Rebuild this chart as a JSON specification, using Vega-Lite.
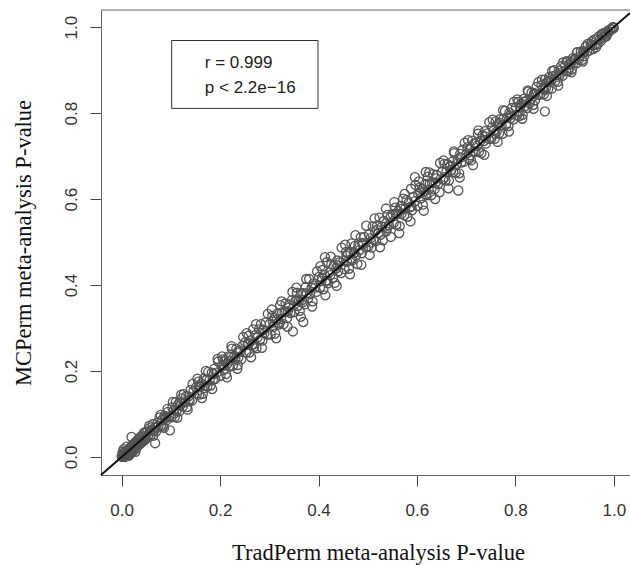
{
"$schema": "https://vega.github.io/schema/vega-lite/v6.json",
"width": 529, "height": 465,
"autosize": "none",
"padding": {"left": 101, "top": 10, "right": 0, "bottom": 90},
"background": "white",
"config": {"view": {"stroke": null}},
"layer": [
{
"data": {"values": [
{"x":0.000,"y":0.002},{"x":0.001,"y":0.000},{"x":0.002,"y":0.006},{"x":0.003,"y":0.001},{"x":0.004,"y":0.009},{"x":0.005,"y":0.003},{"x":0.006,"y":0.000},{"x":0.007,"y":0.011},{"x":0.008,"y":0.004},{"x":0.009,"y":0.014},{"x":0.010,"y":0.006},{"x":0.011,"y":0.002},{"x":0.012,"y":0.016},{"x":0.013,"y":0.009},{"x":0.014,"y":0.005},{"x":0.015,"y":0.019},{"x":0.016,"y":0.012},{"x":0.017,"y":0.008},{"x":0.018,"y":0.022},{"x":0.019,"y":0.014},{"x":0.020,"y":0.010},{"x":0.021,"y":0.026},{"x":0.022,"y":0.017},{"x":0.023,"y":0.013},{"x":0.024,"y":0.030},{"x":0.025,"y":0.020},{"x":0.026,"y":0.021},{"x":0.027,"y":0.033},{"x":0.028,"y":0.024},{"x":0.029,"y":0.019},{"x":0.030,"y":0.036},{"x":0.031,"y":0.027},{"x":0.032,"y":0.025},{"x":0.033,"y":0.040},{"x":0.034,"y":0.030},{"x":0.035,"y":0.028},{"x":0.036,"y":0.044},{"x":0.037,"y":0.035},{"x":0.038,"y":0.031},{"x":0.039,"y":0.047},{"x":0.040,"y":0.037},{"x":0.041,"y":0.034},{"x":0.042,"y":0.050},{"x":0.043,"y":0.040},{"x":0.044,"y":0.038},{"x":0.045,"y":0.056},{"x":0.046,"y":0.043},{"x":0.047,"y":0.039},{"x":0.048,"y":0.058},{"x":0.049,"y":0.046},{"x":0.050,"y":0.044},
{"x":0.020,"y":0.0465},{"x":0.004,"y":0.018},{"x":0.010,"y":0.024},{"x":0.002,"y":0.012},{"x":0.015,"y":0.003},{"x":0.028,"y":0.012},
{"x":0.052,"y":0.058},{"x":0.054,"y":0.050},{"x":0.057,"y":0.067},{"x":0.059,"y":0.051},{"x":0.061,"y":0.063},{"x":0.063,"y":0.076},{"x":0.066,"y":0.061},{"x":0.068,"y":0.069},{"x":0.070,"y":0.059},{"x":0.073,"y":0.080},{"x":0.075,"y":0.073},{"x":0.077,"y":0.092},{"x":0.080,"y":0.073},{"x":0.082,"y":0.086},{"x":0.084,"y":0.071},{"x":0.087,"y":0.096},{"x":0.089,"y":0.089},{"x":0.091,"y":0.085},{"x":0.094,"y":0.105},{"x":0.097,"y":0.094},
{"x":0.068,"y":0.032},{"x":0.098,"y":0.062},
{"x":0.101,"y":0.092},{"x":0.103,"y":0.115},{"x":0.106,"y":0.109},{"x":0.108,"y":0.093},{"x":0.110,"y":0.128},{"x":0.112,"y":0.108},{"x":0.115,"y":0.123},{"x":0.117,"y":0.106},{"x":0.119,"y":0.120},{"x":0.122,"y":0.136},{"x":0.124,"y":0.117},{"x":0.126,"y":0.146},{"x":0.129,"y":0.127},{"x":0.131,"y":0.141},{"x":0.133,"y":0.116},{"x":0.136,"y":0.141},{"x":0.138,"y":0.130},{"x":0.140,"y":0.156},{"x":0.143,"y":0.131},{"x":0.146,"y":0.153},
{"x":0.151,"y":0.162},{"x":0.153,"y":0.147},{"x":0.156,"y":0.175},{"x":0.158,"y":0.145},{"x":0.160,"y":0.164},{"x":0.162,"y":0.171},{"x":0.165,"y":0.147},{"x":0.167,"y":0.182},{"x":0.169,"y":0.166},{"x":0.172,"y":0.179},{"x":0.174,"y":0.164},{"x":0.176,"y":0.198},{"x":0.179,"y":0.180},{"x":0.181,"y":0.166},{"x":0.183,"y":0.196},{"x":0.186,"y":0.181},{"x":0.188,"y":0.205},{"x":0.190,"y":0.181},{"x":0.193,"y":0.196},{"x":0.196,"y":0.222},
{"x":0.201,"y":0.189},{"x":0.203,"y":0.211},{"x":0.206,"y":0.227},{"x":0.208,"y":0.203},{"x":0.210,"y":0.224},{"x":0.212,"y":0.193},{"x":0.215,"y":0.217},{"x":0.217,"y":0.234},{"x":0.219,"y":0.210},{"x":0.222,"y":0.233},{"x":0.224,"y":0.252},{"x":0.226,"y":0.212},{"x":0.229,"y":0.235},{"x":0.231,"y":0.228},{"x":0.233,"y":0.252},{"x":0.236,"y":0.214},{"x":0.238,"y":0.248},{"x":0.240,"y":0.244},{"x":0.243,"y":0.227},{"x":0.246,"y":0.259},
{"x":0.251,"y":0.267},{"x":0.253,"y":0.243},{"x":0.256,"y":0.261},{"x":0.258,"y":0.282},{"x":0.260,"y":0.243},{"x":0.262,"y":0.271},{"x":0.265,"y":0.261},{"x":0.267,"y":0.297},{"x":0.269,"y":0.256},{"x":0.272,"y":0.284},{"x":0.274,"y":0.253},{"x":0.276,"y":0.278},{"x":0.279,"y":0.297},{"x":0.281,"y":0.273},{"x":0.283,"y":0.309},{"x":0.286,"y":0.271},{"x":0.288,"y":0.295},{"x":0.290,"y":0.288},{"x":0.293,"y":0.313},{"x":0.296,"y":0.285},
{"x":0.301,"y":0.310},{"x":0.303,"y":0.285},{"x":0.306,"y":0.328},{"x":0.308,"y":0.302},{"x":0.310,"y":0.323},{"x":0.312,"y":0.287},{"x":0.315,"y":0.319},{"x":0.317,"y":0.334},{"x":0.319,"y":0.308},{"x":0.322,"y":0.353},{"x":0.324,"y":0.321},{"x":0.326,"y":0.337},{"x":0.329,"y":0.309},{"x":0.331,"y":0.337},{"x":0.333,"y":0.357},{"x":0.336,"y":0.323},{"x":0.338,"y":0.339},{"x":0.340,"y":0.355},{"x":0.343,"y":0.335},{"x":0.346,"y":0.365},
{"x":0.348,"y":0.292},{"x":0.369,"y":0.314},
{"x":0.351,"y":0.337},{"x":0.353,"y":0.363},{"x":0.356,"y":0.382},{"x":0.358,"y":0.351},{"x":0.360,"y":0.363},{"x":0.362,"y":0.340},{"x":0.365,"y":0.381},{"x":0.367,"y":0.365},{"x":0.369,"y":0.381},{"x":0.372,"y":0.355},{"x":0.374,"y":0.395},{"x":0.376,"y":0.381},{"x":0.379,"y":0.369},{"x":0.381,"y":0.414},{"x":0.383,"y":0.379},{"x":0.386,"y":0.394},{"x":0.388,"y":0.362},{"x":0.390,"y":0.404},{"x":0.393,"y":0.394},{"x":0.396,"y":0.384},
{"x":0.401,"y":0.419},{"x":0.403,"y":0.394},{"x":0.406,"y":0.410},{"x":0.408,"y":0.435},{"x":0.410,"y":0.390},{"x":0.412,"y":0.423},{"x":0.415,"y":0.410},{"x":0.417,"y":0.453},{"x":0.419,"y":0.404},{"x":0.422,"y":0.429},{"x":0.424,"y":0.423},{"x":0.426,"y":0.448},{"x":0.429,"y":0.417},{"x":0.431,"y":0.445},{"x":0.433,"y":0.405},{"x":0.436,"y":0.439},{"x":0.438,"y":0.457},{"x":0.440,"y":0.432},{"x":0.443,"y":0.453},{"x":0.446,"y":0.428},
{"x":0.413,"y":0.465},
{"x":0.451,"y":0.457},{"x":0.453,"y":0.437},{"x":0.456,"y":0.477},{"x":0.458,"y":0.454},{"x":0.460,"y":0.473},{"x":0.462,"y":0.438},{"x":0.465,"y":0.474},{"x":0.467,"y":0.497},{"x":0.469,"y":0.458},{"x":0.472,"y":0.474},{"x":0.474,"y":0.491},{"x":0.476,"y":0.469},{"x":0.479,"y":0.449},{"x":0.481,"y":0.493},{"x":0.483,"y":0.481},{"x":0.486,"y":0.511},{"x":0.488,"y":0.474},{"x":0.490,"y":0.495},{"x":0.493,"y":0.512},{"x":0.496,"y":0.487},
{"x":0.501,"y":0.490},{"x":0.503,"y":0.518},{"x":0.506,"y":0.509},{"x":0.508,"y":0.487},{"x":0.510,"y":0.536},{"x":0.512,"y":0.506},{"x":0.515,"y":0.525},{"x":0.517,"y":0.502},{"x":0.519,"y":0.539},{"x":0.522,"y":0.521},{"x":0.524,"y":0.557},{"x":0.526,"y":0.517},{"x":0.529,"y":0.536},{"x":0.531,"y":0.504},{"x":0.533,"y":0.549},{"x":0.536,"y":0.536},{"x":0.538,"y":0.525},{"x":0.540,"y":0.563},{"x":0.543,"y":0.539},{"x":0.546,"y":0.557},
{"x":0.551,"y":0.565},{"x":0.553,"y":0.545},{"x":0.556,"y":0.580},{"x":0.558,"y":0.540},{"x":0.560,"y":0.565},{"x":0.562,"y":0.572},{"x":0.565,"y":0.537},{"x":0.567,"y":0.584},{"x":0.569,"y":0.566},{"x":0.572,"y":0.601},{"x":0.574,"y":0.562},{"x":0.576,"y":0.578},{"x":0.579,"y":0.598},{"x":0.581,"y":0.559},{"x":0.583,"y":0.591},{"x":0.586,"y":0.581},{"x":0.588,"y":0.624},{"x":0.590,"y":0.574},{"x":0.593,"y":0.605},{"x":0.596,"y":0.595},
{"x":0.596,"y":0.651},{"x":0.618,"y":0.663},
{"x":0.601,"y":0.584},{"x":0.603,"y":0.612},{"x":0.606,"y":0.627},{"x":0.608,"y":0.602},{"x":0.610,"y":0.624},{"x":0.612,"y":0.587},{"x":0.615,"y":0.618},{"x":0.617,"y":0.635},{"x":0.619,"y":0.609},{"x":0.622,"y":0.652},{"x":0.624,"y":0.622},{"x":0.626,"y":0.637},{"x":0.629,"y":0.609},{"x":0.631,"y":0.637},{"x":0.633,"y":0.658},{"x":0.636,"y":0.623},{"x":0.638,"y":0.638},{"x":0.640,"y":0.656},{"x":0.643,"y":0.635},{"x":0.646,"y":0.616},
{"x":0.651,"y":0.663},{"x":0.653,"y":0.646},{"x":0.656,"y":0.682},{"x":0.658,"y":0.643},{"x":0.660,"y":0.664},{"x":0.662,"y":0.681},{"x":0.665,"y":0.643},{"x":0.667,"y":0.675},{"x":0.669,"y":0.667},{"x":0.672,"y":0.687},{"x":0.674,"y":0.663},{"x":0.676,"y":0.707},{"x":0.679,"y":0.661},{"x":0.681,"y":0.682},{"x":0.683,"y":0.693},{"x":0.686,"y":0.660},{"x":0.688,"y":0.705},{"x":0.690,"y":0.685},{"x":0.693,"y":0.715},{"x":0.696,"y":0.687},
{"x":0.684,"y":0.620},
{"x":0.701,"y":0.706},{"x":0.703,"y":0.721},{"x":0.706,"y":0.693},{"x":0.708,"y":0.717},{"x":0.710,"y":0.690},{"x":0.712,"y":0.736},{"x":0.715,"y":0.711},{"x":0.717,"y":0.730},{"x":0.719,"y":0.710},{"x":0.722,"y":0.724},{"x":0.724,"y":0.752},{"x":0.726,"y":0.710},{"x":0.729,"y":0.736},{"x":0.731,"y":0.707},{"x":0.733,"y":0.748},{"x":0.736,"y":0.735},{"x":0.738,"y":0.758},{"x":0.740,"y":0.729},{"x":0.743,"y":0.753},{"x":0.746,"y":0.740},
{"x":0.751,"y":0.741},{"x":0.753,"y":0.767},{"x":0.756,"y":0.759},{"x":0.758,"y":0.740},{"x":0.760,"y":0.781},{"x":0.762,"y":0.757},{"x":0.765,"y":0.774},{"x":0.767,"y":0.753},{"x":0.769,"y":0.786},{"x":0.772,"y":0.772},{"x":0.774,"y":0.752},{"x":0.776,"y":0.787},{"x":0.779,"y":0.805},{"x":0.781,"y":0.773},{"x":0.783,"y":0.789},{"x":0.786,"y":0.770},{"x":0.788,"y":0.801},{"x":0.790,"y":0.788},{"x":0.793,"y":0.812},{"x":0.796,"y":0.785},
{"x":0.801,"y":0.814},{"x":0.803,"y":0.795},{"x":0.806,"y":0.826},{"x":0.808,"y":0.793},{"x":0.810,"y":0.814},{"x":0.812,"y":0.822},{"x":0.815,"y":0.796},{"x":0.817,"y":0.833},{"x":0.819,"y":0.816},{"x":0.822,"y":0.829},{"x":0.824,"y":0.812},{"x":0.826,"y":0.850},{"x":0.829,"y":0.823},{"x":0.831,"y":0.832},{"x":0.833,"y":0.848},{"x":0.836,"y":0.819},{"x":0.838,"y":0.847},{"x":0.840,"y":0.830},{"x":0.843,"y":0.861},{"x":0.846,"y":0.842},
{"x":0.860,"y":0.804},
{"x":0.851,"y":0.844},{"x":0.853,"y":0.865},{"x":0.856,"y":0.858},{"x":0.858,"y":0.844},{"x":0.860,"y":0.878},{"x":0.862,"y":0.858},{"x":0.865,"y":0.873},{"x":0.867,"y":0.856},{"x":0.869,"y":0.884},{"x":0.872,"y":0.872},{"x":0.874,"y":0.857},{"x":0.876,"y":0.886},{"x":0.879,"y":0.900},{"x":0.881,"y":0.875},{"x":0.883,"y":0.888},{"x":0.886,"y":0.873},{"x":0.888,"y":0.899},{"x":0.890,"y":0.888},{"x":0.893,"y":0.909},{"x":0.896,"y":0.887},
{"x":0.901,"y":0.910},{"x":0.903,"y":0.898},{"x":0.906,"y":0.920},{"x":0.908,"y":0.898},{"x":0.910,"y":0.913},{"x":0.912,"y":0.919},{"x":0.915,"y":0.902},{"x":0.917,"y":0.928},{"x":0.919,"y":0.917},{"x":0.922,"y":0.927},{"x":0.924,"y":0.916},{"x":0.926,"y":0.942},{"x":0.929,"y":0.925},{"x":0.931,"y":0.932},{"x":0.933,"y":0.943},{"x":0.936,"y":0.924},{"x":0.938,"y":0.944},{"x":0.940,"y":0.933},{"x":0.943,"y":0.955},{"x":0.946,"y":0.943},
{"x":0.951,"y":0.946},{"x":0.953,"y":0.961},{"x":0.956,"y":0.958},{"x":0.958,"y":0.949},{"x":0.960,"y":0.971},{"x":0.962,"y":0.959},{"x":0.965,"y":0.971},{"x":0.967,"y":0.960},{"x":0.969,"y":0.978},{"x":0.972,"y":0.972},{"x":0.974,"y":0.968},{"x":0.976,"y":0.981},{"x":0.979,"y":0.986},{"x":0.981,"y":0.977},{"x":0.983,"y":0.986},{"x":0.986,"y":0.983},{"x":0.988,"y":0.992},{"x":0.990,"y":0.989},{"x":0.993,"y":0.995},{"x":0.996,"y":0.995},
{"x":0.999,"y":1.000},{"x":1.000,"y":0.998},{"x":0.998,"y":1.000},
{"x":0.056,"y":0.072},{"x":0.064,"y":0.049},{"x":0.079,"y":0.098},{"x":0.086,"y":0.068},{"x":0.093,"y":0.112},
{"x":0.104,"y":0.128},{"x":0.113,"y":0.091},{"x":0.121,"y":0.145},{"x":0.134,"y":0.110},{"x":0.144,"y":0.170},
{"x":0.154,"y":0.182},{"x":0.163,"y":0.137},{"x":0.171,"y":0.200},{"x":0.184,"y":0.158},{"x":0.195,"y":0.228},
{"x":0.204,"y":0.234},{"x":0.214,"y":0.185},{"x":0.223,"y":0.258},{"x":0.235,"y":0.205},{"x":0.247,"y":0.279},
{"x":0.254,"y":0.288},{"x":0.263,"y":0.232},{"x":0.273,"y":0.309},{"x":0.285,"y":0.254},{"x":0.297,"y":0.333},
{"x":0.305,"y":0.343},{"x":0.314,"y":0.276},{"x":0.325,"y":0.362},{"x":0.337,"y":0.303},{"x":0.347,"y":0.384},
{"x":0.355,"y":0.394},{"x":0.364,"y":0.326},{"x":0.375,"y":0.414},{"x":0.387,"y":0.350},{"x":0.397,"y":0.432},
{"x":0.404,"y":0.444},{"x":0.414,"y":0.376},{"x":0.425,"y":0.466},{"x":0.437,"y":0.398},{"x":0.447,"y":0.487},
{"x":0.454,"y":0.494},{"x":0.464,"y":0.425},{"x":0.475,"y":0.516},{"x":0.487,"y":0.447},{"x":0.497,"y":0.538},
{"x":0.504,"y":0.470},{"x":0.514,"y":0.555},{"x":0.525,"y":0.488},{"x":0.537,"y":0.578},{"x":0.547,"y":0.512},
{"x":0.554,"y":0.593},{"x":0.564,"y":0.521},{"x":0.575,"y":0.612},{"x":0.587,"y":0.548},{"x":0.597,"y":0.633},
{"x":0.604,"y":0.641},{"x":0.614,"y":0.573},{"x":0.625,"y":0.662},{"x":0.637,"y":0.600},{"x":0.647,"y":0.684},
{"x":0.654,"y":0.690},{"x":0.664,"y":0.625},{"x":0.675,"y":0.711},{"x":0.687,"y":0.650},{"x":0.697,"y":0.731},
{"x":0.704,"y":0.737},{"x":0.714,"y":0.679},{"x":0.725,"y":0.760},{"x":0.737,"y":0.703},{"x":0.747,"y":0.779},
{"x":0.754,"y":0.785},{"x":0.764,"y":0.733},{"x":0.775,"y":0.807},{"x":0.787,"y":0.757},{"x":0.797,"y":0.826},
{"x":0.804,"y":0.832},{"x":0.814,"y":0.787},{"x":0.825,"y":0.853},{"x":0.837,"y":0.810},{"x":0.847,"y":0.872},
{"x":0.854,"y":0.878},{"x":0.864,"y":0.840},{"x":0.875,"y":0.898},{"x":0.887,"y":0.864},{"x":0.897,"y":0.918},
{"x":0.904,"y":0.921},{"x":0.914,"y":0.895},{"x":0.925,"y":0.941},{"x":0.937,"y":0.920},{"x":0.947,"y":0.961},
{"x":0.955,"y":0.966},{"x":0.964,"y":0.953},{"x":0.975,"y":0.984},{"x":0.985,"y":0.979},
{"x":0.058,"y":0.061},{"x":0.071,"y":0.068},{"x":0.088,"y":0.093},
{"x":0.107,"y":0.101},{"x":0.118,"y":0.127},{"x":0.137,"y":0.133},
{"x":0.157,"y":0.166},{"x":0.168,"y":0.160},{"x":0.187,"y":0.193},
{"x":0.207,"y":0.214},{"x":0.218,"y":0.224},{"x":0.237,"y":0.231},
{"x":0.257,"y":0.266},{"x":0.268,"y":0.262},{"x":0.287,"y":0.296},
{"x":0.307,"y":0.315},{"x":0.318,"y":0.312},{"x":0.339,"y":0.347},
{"x":0.357,"y":0.366},{"x":0.368,"y":0.360},{"x":0.389,"y":0.399},
{"x":0.407,"y":0.417},{"x":0.418,"y":0.410},{"x":0.439,"y":0.446},
{"x":0.457,"y":0.468},{"x":0.468,"y":0.461},{"x":0.489,"y":0.498},
{"x":0.507,"y":0.499},{"x":0.518,"y":0.529},{"x":0.539,"y":0.532},
{"x":0.557,"y":0.566},{"x":0.568,"y":0.577},{"x":0.589,"y":0.583},
{"x":0.607,"y":0.615},{"x":0.618,"y":0.611},{"x":0.639,"y":0.648},
{"x":0.657,"y":0.651},{"x":0.668,"y":0.678},{"x":0.689,"y":0.697},
{"x":0.709,"y":0.702},{"x":0.718,"y":0.728},{"x":0.739,"y":0.746},
{"x":0.759,"y":0.752},{"x":0.768,"y":0.777},{"x":0.789,"y":0.795},
{"x":0.809,"y":0.803},{"x":0.818,"y":0.826},{"x":0.839,"y":0.845},
{"x":0.859,"y":0.853},{"x":0.868,"y":0.875},{"x":0.889,"y":0.893},
{"x":0.909,"y":0.905},{"x":0.918,"y":0.923},{"x":0.939,"y":0.941}
]},
"mark": {"type": "point", "shape": "circle", "filled": false, "stroke": "#555555", "strokeWidth": 1.3, "size": 82, "opacity": 1},
"encoding": {
"x": {"field": "x", "type": "quantitative",
"scale": {"domain": [-0.042, 1.033], "nice": false, "zero": false},
"axis": {"values": [0, 0.2, 0.4, 0.6, 0.8, 1.0], "format": ".1f", "grid": false,
"domainColor": "#666", "tickColor": "#444", "tickSize": 11,
"labelFont": "Liberation Sans", "labelFontSize": 17, "labelColor": "#333", "labelPadding": 16,
"title": "TradPerm meta-analysis P-value", "titleFont": "Liberation Serif", "titleFontSize": 22.5,
"titleFontWeight": "normal", "titleColor": "#111", "titlePadding": 23, "titleX": 277}},
"y": {"field": "y", "type": "quantitative",
"scale": {"domain": [-0.042, 1.04], "nice": false, "zero": false},
"axis": {"values": [0, 0.2, 0.4, 0.6, 0.8, 1.0], "format": ".1f", "grid": false,
"domainColor": "#666", "tickColor": "#444", "tickSize": 11,
"labelFont": "Liberation Sans", "labelFontSize": 17, "labelColor": "#333", "labelPadding": 10,
"labelAngle": 270, "labelAlign": "center", "labelBaseline": "bottom",
"title": "MCPerm meta-analysis P-value", "titleFont": "Liberation Serif", "titleFontSize": 22.5,
"titleFontWeight": "normal", "titleColor": "#111", "titlePadding": 27}}
}
},
{
"data": {"values": [{}]},
"mark": {"type": "rule", "color": "#111", "strokeWidth": 2},
"encoding": {"x": {"datum": -0.042}, "y": {"datum": -0.042}, "x2": {"datum": 1.033}, "y2": {"datum": 1.033}}
},
{
"data": {"values": [{}]},
"mark": {"type": "rule", "color": "#666", "strokeWidth": 1},
"encoding": {"x": {"datum": -0.042}, "y": {"datum": 1.04}, "x2": {"datum": 1.033}}
},
{
"data": {"values": [{}]},
"mark": {"type": "rect", "fill": "white", "stroke": "#333", "strokeWidth": 1},
"encoding": {"x": {"datum": 0.1016}, "x2": {"datum": 0.399}, "y": {"datum": 0.811}, "y2": {"datum": 0.969}}
},
{
"data": {"values": [{"label": "r = 0.999", "ly": 0.905}, {"label": "p < 2.2e\u221216", "ly": 0.847}]},
"mark": {"type": "text", "align": "left", "baseline": "alphabetic", "font": "Liberation Sans", "fontSize": 17, "color": "#222"},
"encoding": {"x": {"datum": 0.169}, "y": {"field": "ly", "type": "quantitative"}, "text": {"field": "label"}}
}
]
}
